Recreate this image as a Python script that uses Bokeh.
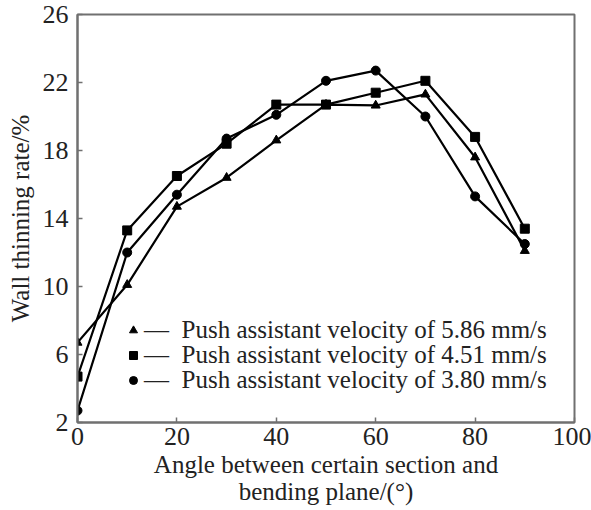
from bokeh.plotting import figure
from bokeh.models import Range1d, FixedTicker, Legend, LegendItem
from bokeh.embed import file_html
from bokeh.resources import INLINE

# Angle between section and bending plane (degrees)
angles = [0, 10, 20, 30, 40, 50, 60, 70, 80, 90]

# Wall thinning rate (%) for each push assistant velocity
v586 = [6.7, 10.1, 14.7, 16.4, 18.6, 20.7, 20.65, 21.3, 17.6, 12.1]
v451 = [4.7, 13.3, 16.5, 18.4, 20.7, 20.7, 21.4, 22.1, 18.8, 13.4]
v380 = [2.7, 12.0, 15.4, 18.7, 20.1, 22.1, 22.7, 20.0, 15.3, 12.5]

series_labels = [
    "\u2014\u2002Push assistant velocity of 5.86 mm/s",
    "\u2014\u2002Push assistant velocity of 4.51 mm/s",
    "\u2014\u2002Push assistant velocity of 3.80 mm/s",
]
x_ticks = [0, 20, 40, 60, 80, 100]
y_ticks = [2, 6, 10, 14, 18, 22, 26]

FONT = "Liberation Serif"
FRAME = "#707070"
TEXT = "#222222"

p = figure(width=591, height=510, output_backend="svg", toolbar_location=None,
           x_range=Range1d(0, 100), y_range=Range1d(2, 26))
p.min_border_left = 77
p.min_border_right = 17
p.min_border_top = 14
p.min_border_bottom = 88
p.background_fill_color = "white"
p.border_fill_color = "white"
p.grid.visible = False
p.outline_line_color = FRAME
p.outline_line_width = 2

for ax, ticks in ((p.xaxis, x_ticks), (p.yaxis, y_ticks)):
    ax.ticker = FixedTicker(ticks=ticks)
    ax.major_tick_in = 5
    ax.major_tick_out = 0
    ax.minor_tick_line_color = None
    ax.axis_line_color = FRAME
    ax.axis_line_width = 2
    ax.major_tick_line_color = FRAME
    ax.major_tick_line_width = 1.5
    ax.major_label_text_font = FONT
    ax.major_label_text_font_size = "26px"
    ax.major_label_text_color = TEXT
    ax.axis_label_text_font = FONT
    ax.axis_label_text_font_size = "25px"
    ax.axis_label_text_font_style = "normal"
    ax.axis_label_text_color = TEXT

p.xaxis.major_label_standoff = 5
p.yaxis.major_label_standoff = 9
p.xaxis.axis_label = "Angle between certain section and\nbending plane/(\u00b0)"
p.xaxis.axis_label_standoff = 3
p.xaxis.axis_label_text_line_height = 1.0
p.yaxis.axis_label = "Wall thinning rate/%"
p.yaxis.axis_label_standoff = 6

markers = ["triangle", "square", "circle"]
values = [v586, v451, v380]
# vertical offset (px from the bottom of the frame) of each legend row
legend_offsets = [78, 53, 28]
for vals, mk, lab, off in zip(values, markers, series_labels, legend_offsets):
    p.line(angles, vals, line_color="black", line_width=2.2)
    r = p.scatter(angles, vals, marker=mk, size=9, fill_color="black", line_color="black")
    lg = Legend(items=[LegendItem(label=lab, renderers=[r])], location=(46, off))
    lg.background_fill_alpha = 0
    lg.border_line_color = None
    lg.padding = 0
    lg.margin = 0
    lg.spacing = 0
    lg.glyph_width = 20
    lg.glyph_height = 22
    lg.label_height = 22
    lg.label_standoff = 1
    lg.label_text_font = FONT
    lg.label_text_font_size = "25px"
    lg.label_text_color = TEXT
    lg.label_text_line_height = 1.0
    p.add_layout(lg)

open("out.html", "w").write(file_html(p, INLINE))
